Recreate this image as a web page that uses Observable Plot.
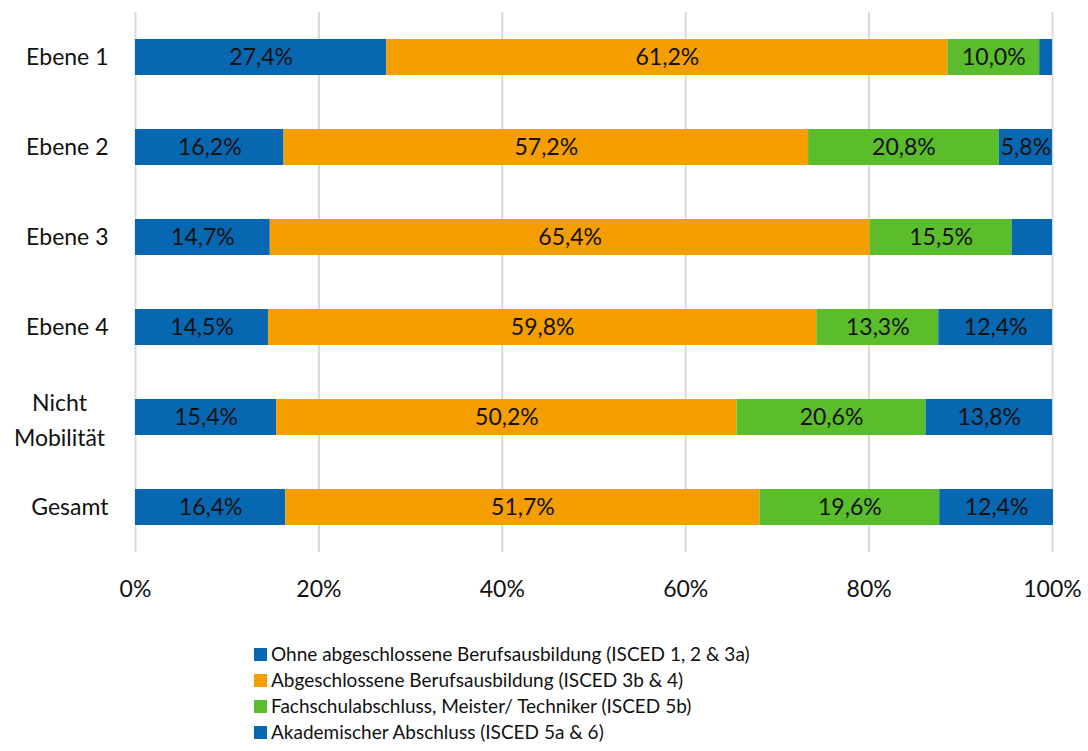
<!DOCTYPE html>
<html>
<head>
<meta charset="utf-8">
<script src="https://cdn.jsdelivr.net/npm/d3@7"></script>
<script src="https://cdn.jsdelivr.net/npm/@observablehq/plot@0.6"></script>
<style>
  html, body { margin: 0; padding: 0; background: #fff; }
  body { width: 1088px; height: 751px; overflow: hidden; font-family: "Source Sans Pro", Lato, sans-serif; }
  #legend { margin-top: 21px; margin-left: 254px; font-size: 19px; line-height: 26px; color: #111; }
  .item { display: flex; align-items: center; white-space: nowrap; }
  .sw { width: 13px; height: 13px; margin-right: 4px; flex: none; }
</style>
</head>
<body>
<div id="chart"></div>
<div id="legend"></div>
<script>
const categories = ["Ebene 1", "Ebene 2", "Ebene 3", "Ebene 4", "Nicht Mobilität", "Gesamt"];
const seriesNames = [
  "Ohne abgeschlossene Berufsausbildung (ISCED 1, 2 & 3a)",
  "Abgeschlossene Berufsausbildung (ISCED 3b & 4)",
  "Fachschulabschluss, Meister/ Techniker (ISCED 5b)",
  "Akademischer Abschluss (ISCED 5a & 6)"
];
const ohneAbschluss = [27.4, 16.2, 14.7, 14.5, 15.4, 16.4];
const berufsausbildung = [61.2, 57.2, 65.4, 59.8, 50.2, 51.7];
const fachschule = [10.0, 20.8, 15.5, 13.3, 20.6, 19.6];
const akademisch = [1.4, 5.8, 4.4, 12.4, 13.8, 12.4];
const colors = ["#0867b1", "#f49e00", "#5bbd2b", "#0867b1"];
const xTicks = [0, 20, 40, 60, 80, 100];

const seriesValues = [ohneAbschluss, berufsausbildung, fachschule, akademisch];
const data = [];
categories.forEach((c, i) => {
  seriesNames.forEach((s, j) => {
    data.push({category: c, series: s, value: seriesValues[j][i]});
  });
});

const fmt = v => v.toFixed(1).replace(".", ",") + "%";
const FS = 23;

const chart = Plot.plot({
  width: 1088,
  height: 620,
  marginLeft: 135,
  marginRight: 36,
  marginTop: 12,
  marginBottom: 68,
  style: {fontFamily: '"Source Sans Pro", Lato, sans-serif', fontSize: FS + "px", color: "#111", background: "#fff"},
  x: {domain: [0, 100], axis: null, label: null},
  y: {domain: categories, axis: null, paddingInner: 0.6, paddingOuter: 0.3},
  color: {domain: seriesNames, range: colors},
  marks: [
    Plot.gridX(xTicks, {stroke: "#d9d9d9", strokeOpacity: 1, strokeWidth: 2}),
    Plot.barX(data, Plot.stackX({x: "value", y: "category", z: "series", fill: "series", order: seriesNames})),
    Plot.text(data, Plot.stackX({x: "value", y: "category", z: "series", order: seriesNames,
      text: d => d.value >= 5 ? fmt(d.value) : "", fill: "#111", fontSize: FS})),
    Plot.axisX(xTicks, {tickSize: 0, tickPadding: 28, tickFormat: d => d + "%", fontSize: FS, fill: "#111", label: null}),
    Plot.text(categories.filter(c => c !== "Nicht Mobilität"), {y: d => d, text: d => d, frameAnchor: "left", textAnchor: "end", dx: -27, fontSize: FS, fill: "#111"}),
    Plot.text(categories.filter(c => c === "Nicht Mobilität"), {y: d => d, text: d => "Nicht\nMobilität", frameAnchor: "left", textAnchor: "middle", dx: -76, lineHeight: 1.5, fontSize: FS, fill: "#111"})
  ]
});
document.getElementById("chart").appendChild(chart);

const legend = document.getElementById("legend");
seriesNames.forEach((s, i) => {
  const item = document.createElement("div");
  item.className = "item";
  const sw = document.createElement("span");
  sw.className = "sw";
  sw.style.background = colors[i];
  const t = document.createElement("span");
  t.textContent = s;
  item.appendChild(sw);
  item.appendChild(t);
  legend.appendChild(item);
});
</script>
</body>
</html>
